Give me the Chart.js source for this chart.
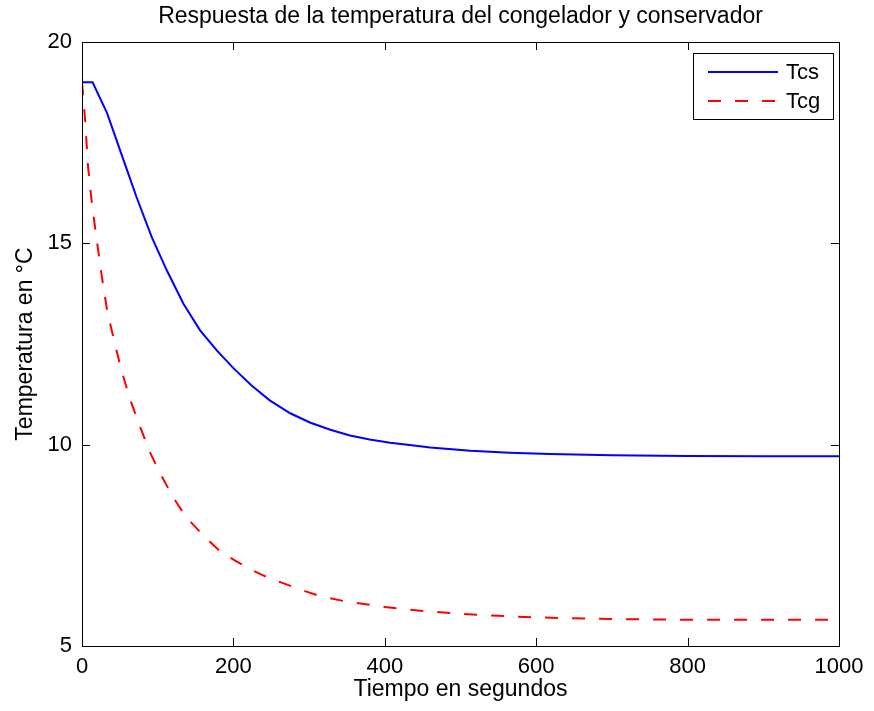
<!DOCTYPE html>
<html>
<head>
<meta charset="utf-8">
<script src="https://cdn.jsdelivr.net/npm/chart.js@4/dist/chart.umd.min.js"></script>
<style>
  html, body { margin: 0; padding: 0; background: #fff; }
  #wrap { width: 874px; height: 711px; }
</style>
</head>
<body>
<div id="wrap"><canvas id="chart" width="874" height="711"></canvas></div>
<script>
// Tcs: conservador
const tcsTime = [0, 14, 33, 55, 72, 92, 112, 134, 156, 178, 200, 224, 248, 275, 301, 328, 354, 380, 407, 433, 460, 513, 565, 618, 700, 800, 900, 1000];
const tcsTemp = [19, 19, 18.24, 17.06, 16.15, 15.16, 14.33, 13.5, 12.84, 12.34, 11.9, 11.47, 11.1, 10.78, 10.55, 10.37, 10.23, 10.13, 10.05, 9.99, 9.93, 9.85, 9.8, 9.77, 9.74, 9.72, 9.71, 9.71];
// Tcg: congelador
const tcgTime = [0, 4, 8, 13, 19, 26, 33, 41, 52, 64, 77, 90, 103, 120, 138, 160, 182, 204, 226, 248, 270, 292, 314, 350, 400, 450, 500, 550, 600, 700, 800, 900, 1000];
const tcgTemp = [19, 18.1, 16.9, 16.0, 15.15, 14.2, 13.35, 12.7, 11.85, 11.1, 10.43, 9.8, 9.3, 8.7, 8.19, 7.75, 7.36, 7.1, 6.87, 6.68, 6.53, 6.38, 6.24, 6.1, 5.97, 5.87, 5.8, 5.75, 5.71, 5.67, 5.65, 5.65, 5.65];

const xTicks = [0, 200, 400, 600, 800, 1000];
const yTicks = [5, 10, 15, 20];

const FONT = "'Liberation Sans', Arial, Helvetica, sans-serif";

const toPoints = (xs, ys) => xs.map((x, i) => ({ x: x, y: ys[i] }));

// ticks pointing inward on all four sides + box, matlab style
const frame = {
  id: 'frame',
  afterDraw(chart) {
    const { ctx, chartArea: a, scales } = chart;
    ctx.save();
    ctx.strokeStyle = '#000';
    ctx.lineWidth = 1;
    ctx.strokeRect(a.left + 0.5, a.top + 0.5, a.right - a.left, a.bottom - a.top);
    const len = 8;
    ctx.beginPath();
    xTicks.forEach(v => {
      const px = Math.round(scales.x.getPixelForValue(v)) + 0.5;
      ctx.moveTo(px, a.bottom); ctx.lineTo(px, a.bottom - len);
      ctx.moveTo(px, a.top); ctx.lineTo(px, a.top + len);
    });
    yTicks.forEach(v => {
      const py = Math.round(scales.y.getPixelForValue(v)) + 0.5;
      ctx.moveTo(a.left, py); ctx.lineTo(a.left + len, py);
      ctx.moveTo(a.right, py); ctx.lineTo(a.right - len, py);
    });
    ctx.stroke();

    // legend box, top right
    const bx = a.right - 146, by = a.top + 11, bw = 140, bh = 66;
    ctx.fillStyle = '#fff';
    ctx.fillRect(bx, by, bw, bh);
    ctx.strokeRect(bx + 0.5, by + 0.5, bw, bh);
    ctx.font = '22px ' + FONT;
    ctx.textBaseline = 'middle';
    chart.data.datasets.forEach((ds, i) => {
      const y = by + 19 + i * 29;
      ctx.strokeStyle = ds.borderColor;
      ctx.lineWidth = ds.borderWidth;
      ctx.setLineDash(ds.borderDash || []);
      ctx.beginPath();
      ctx.moveTo(bx + 15, y); ctx.lineTo(bx + 85, y);
      ctx.stroke();
      ctx.setLineDash([]);
      ctx.fillStyle = '#000';
      ctx.fillText(ds.label, bx + 93, y + 1);
    });
    ctx.restore();
  }
};

new Chart(document.getElementById('chart'), {
  type: 'line',
  data: {
    datasets: [
      {
        label: 'Tcs',
        data: toPoints(tcsTime, tcsTemp),
        borderColor: '#0000ff',
        borderWidth: 2,
        pointRadius: 0,
        tension: 0,
        fill: false
      },
      {
        label: 'Tcg',
        data: toPoints(tcgTime, tcgTemp),
        borderColor: '#ff0000',
        borderWidth: 2,
        borderDash: [13, 14],
        pointRadius: 0,
        tension: 0,
        fill: false
      }
    ]
  },
  options: {
    responsive: false,
    animation: false,
    layout: { padding: { right: 35, left: 0, top: 0, bottom: 0 } },
    scales: {
      x: {
        type: 'linear',
        min: 0, max: 1000,
        afterBuildTicks: s => { s.ticks = xTicks.map(v => ({ value: v })); },
        afterFit: s => { s.height = 65; },
        grid: { display: false },
        border: { display: false },
        ticks: { color: '#000', font: { family: FONT, size: 22 }, padding: 0, maxRotation: 0, callback: v => String(v) },
        title: { display: true, text: 'Tiempo en segundos', color: '#000', font: { family: FONT, size: 23 }, padding: { top: 0, bottom: 8 } }
      },
      y: {
        type: 'linear',
        min: 5, max: 20,
        afterBuildTicks: s => { s.ticks = yTicks.map(v => ({ value: v })); },
        afterFit: s => { s.width = 82; },
        grid: { display: false },
        border: { display: false },
        ticks: { color: '#000', font: { family: FONT, size: 22 }, padding: 2, callback: v => String(v) },
        title: { display: true, text: 'Temperatura en °C', color: '#000', font: { family: FONT, size: 23 }, padding: { top: 12, bottom: 0 } }
      }
    },
    plugins: {
      legend: { display: false },
      tooltip: { enabled: false },
      title: {
        display: true,
        fullSize: false,
        text: 'Respuesta de la temperatura del congelador y conservador',
        color: '#000',
        font: { family: FONT, size: 23, weight: 'normal' },
        padding: { top: 3, bottom: 11.4 }
      }
    }
  },
  plugins: [frame]
});
</script>
</body>
</html>
